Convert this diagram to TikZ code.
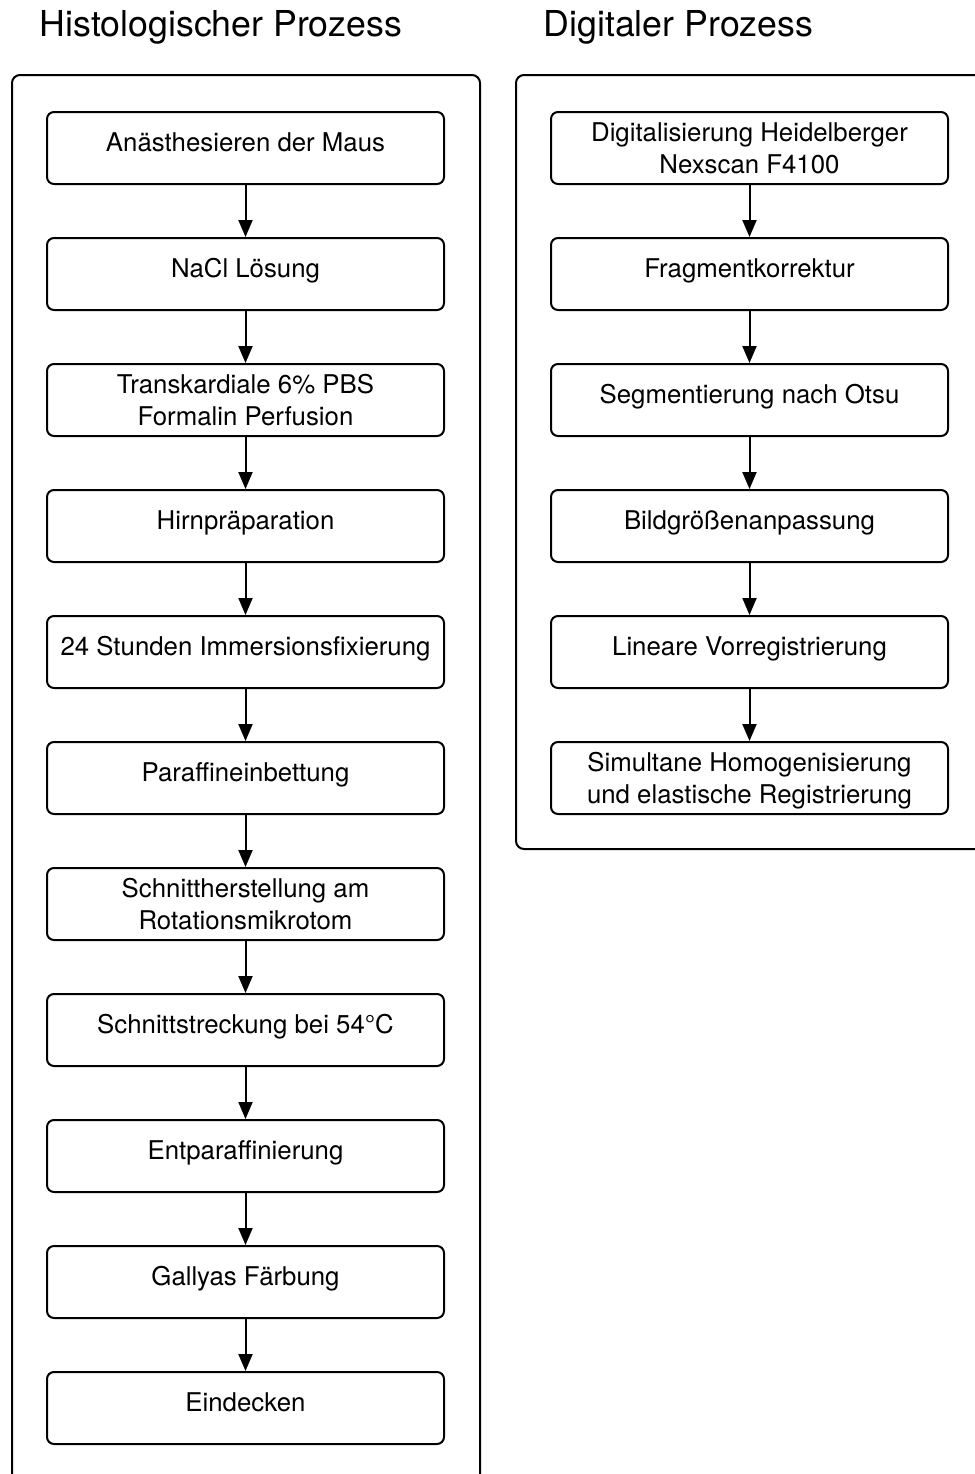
\documentclass[tikz,border=0pt]{standalone}
\usepackage{fontspec}
\setmainfont{TeX Gyre Heros}
\usetikzlibrary{arrows.meta}
\begin{document}
\begin{tikzpicture}[x = 0.5pt,
                    y = -0.5pt,
                    line width = 1pt,
                    color = {black}]
% styles
\tikzset{stepbox/.style={draw=black,rounded corners=3.5pt,minimum width=198.5pt,minimum height=36pt,inner sep=0pt,align=center,font=\fontsize{12.9}{16}\selectfont}}
\tikzset{onebox/.style={stepbox,text height=9.3pt,text depth=6pt}}
\tikzset{groupbox/.style={draw=black,rounded corners=4pt}}
\tikzset{grouptitle/.style={font=\fontsize{17.85}{21}\selectfont}}
\tikzset{flow/.style={-{Triangle[length=8.5pt,width=7pt]}}}
\useasboundingbox (0,0) rectangle (975,1474);

% titles
\node[grouptitle] (TH) at (221,27) {Histologischer Prozess};
\node[grouptitle] (TD) at (678.5,27) {Digitaler Prozess};

% frames
\draw[groupbox] (12,75) rectangle (480,1500);
\draw[groupbox] (516,75) rectangle (1000,849);

% histological steps
\node[onebox] (H1) at (245.5,148) {Anästhesieren der Maus};
\node[onebox] (H2) at (245.5,274) {NaCl Lösung};
\node[stepbox] (H3) at (245.5,400) {Transkardiale 6\% PBS\\Formalin Perfusion};
\node[onebox] (H4) at (245.5,526) {Hirnpräparation};
\node[onebox] (H5) at (245.5,652) {24 Stunden Immersionsfixierung};
\node[onebox] (H6) at (245.5,778) {Paraffineinbettung};
\node[stepbox] (H7) at (245.5,904) {Schnittherstellung am\\Rotationsmikrotom};
\node[onebox] (H8) at (245.5,1030) {Schnittstreckung bei 54°C};
\node[onebox] (H9) at (245.5,1156) {Entparaffinierung};
\node[onebox] (H10) at (245.5,1282) {Gallyas Färbung};
\node[onebox] (H11) at (245.5,1408) {Eindecken};

% digital steps
\node[stepbox] (D1) at (749.5,148) {Digitalisierung Heidelberger\\Nexscan F4100};
\node[onebox] (D2) at (749.5,274) {Fragmentkorrektur};
\node[onebox] (D3) at (749.5,400) {Segmentierung nach Otsu};
\node[onebox] (D4) at (749.5,526) {Bildgrößenanpassung};
\node[onebox] (D5) at (749.5,652) {Lineare Vorregistrierung};
\node[stepbox,text depth=0pt] (D6) at (749.5,778) {Simultane Homogenisierung\\und elastische Registrierung};

% arrows
\draw[flow] (H1) -- (H2);
\draw[flow] (H2) -- (H3);
\draw[flow] (H3) -- (H4);
\draw[flow] (H4) -- (H5);
\draw[flow] (H5) -- (H6);
\draw[flow] (H6) -- (H7);
\draw[flow] (H7) -- (H8);
\draw[flow] (H8) -- (H9);
\draw[flow] (H9) -- (H10);
\draw[flow] (H10) -- (H11);
\draw[flow] (D1) -- (D2);
\draw[flow] (D2) -- (D3);
\draw[flow] (D3) -- (D4);
\draw[flow] (D4) -- (D5);
\draw[flow] (D5) -- (D6);
\end{tikzpicture}
\end{document}
